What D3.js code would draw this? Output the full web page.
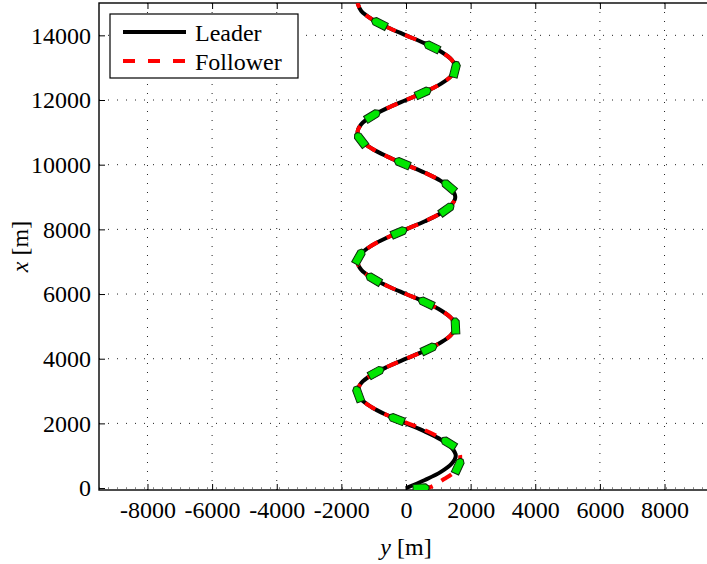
<!DOCTYPE html>
<html>
<head>
<meta charset="utf-8">
<script src="https://cdn.jsdelivr.net/npm/d3@7"></script>
<style>
  body { margin: 0; background: #fff; }
  svg { font-family: "Liberation Serif", serif; }
</style>
</head>
<body>
<div id="chart"></div>
<script>
const w = 707
const h = 564

// leader trajectory, x along track [m] and lateral y [m]
const leaderX = [0, 250, 500, 750, 1000, 1250, 1500, 1750, 2000, 2250, 2500, 2750, 3000, 3250, 3500, 3750,
    4000, 4250, 4500, 4750, 5000, 5250, 5500, 5750, 6000, 6250, 6500, 6750, 7000, 7250, 7500, 7750,
    8000, 8250, 8500, 8750, 9000, 9250, 9500, 9750, 10000, 10250, 10500, 10750, 11000, 11250, 11500, 11750,
    12000, 12250, 12500, 12750, 13000, 13250, 13500, 13750, 14000, 14250, 14500, 14750, 15000]
const leaderY = [0, 585, 1080, 1410, 1540, 1410, 1075, 580, 0, -575, -1060, -1385, -1500, -1385, -1060, -575,
    0, 585, 1075, 1405, 1530, 1405, 1075, 585, 0, -575, -1060, -1385, -1500, -1385, -1060, -575,
    0, 585, 1075, 1405, 1525, 1405, 1075, 585, 0, -575, -1060, -1385, -1500, -1385, -1060, -575,
    0, 585, 1075, 1405, 1530, 1405, 1075, 585, 0, -575, -1060, -1385, -1500]

// follower: own start, then on the leader's track
const followerX = [0, 40, 280, 465, 660, 850, 1020, 1208, 1425, 1640, 1855, 2000].concat(leaderX.slice(9))
const followerY = [465, 774, 1177, 1455, 1610, 1668, 1672, 1579, 1270, 898, 430, 60].concat(leaderY.slice(9))

// follower vehicle snapshots (x position)
const markerX = [0, 680, 1393, 2135, 2908, 3579, 4309, 5011, 5731, 6464, 7154, 7908, 8620,
    9330, 10050, 10770, 11514, 12225, 12946, 13647, 14370]

const xTicks = [-8000, -6000, -4000, -2000, 0, 2000, 4000, 6000, 8000]
const yTicks = [0, 2000, 4000, 6000, 8000, 10000, 12000, 14000]

const pLeft = 99, pRight = 713, pTop = 3, pBottom = 490

const xScale = d3.scaleLinear().domain([-9500, 9500]).range([pLeft, pRight])
const yScale = d3.scaleLinear().domain([-60, 15000]).range([pBottom, pTop])

const svg = d3.select('#chart')
    .append('svg')
    .attr('width', w)
    .attr('height', h)

svg.append('rect')
    .attr('x', pLeft).attr('y', pTop)
    .attr('width', pRight - pLeft).attr('height', pBottom - pTop)
    .attr('fill', '#fff')

svg.append('defs').append('clipPath').attr('id', 'clip')
    .append('rect')
    .attr('x', pLeft).attr('y', pTop)
    .attr('width', pRight - pLeft).attr('height', pBottom - pTop)

// grid
svg.append('g')
    .selectAll('line')
    .data(xTicks)
    .enter()
    .append('line')
    .attr('x1', d => xScale(d)).attr('x2', d => xScale(d))
    .attr('y1', pTop).attr('y2', pBottom)
    .attr('stroke', '#222')
    .attr('stroke-width', 1)
    .attr('stroke-dasharray', '1,8')

svg.append('g')
    .selectAll('line')
    .data(yTicks)
    .enter()
    .append('line')
    .attr('y1', d => yScale(d)).attr('y2', d => yScale(d))
    .attr('x1', pLeft).attr('x2', pRight)
    .attr('stroke', '#222')
    .attr('stroke-width', 1)
    .attr('stroke-dasharray', '1,8')

// axes
const plain = d => String(d)
const xAxis = d3.axisBottom(xScale).tickValues(xTicks).tickFormat(plain).tickSizeInner(-6).tickSizeOuter(0).tickPadding(11)
const yAxis = d3.axisLeft(yScale).tickValues(yTicks).tickFormat(plain).tickSizeInner(-6).tickSizeOuter(0).tickPadding(8)

svg.append('g')
    .attr('transform', 'translate(0,' + pBottom + ')')
    .call(xAxis)
svg.append('g')
    .attr('transform', 'translate(' + pLeft + ',0)')
    .call(yAxis)
svg.append('g')
    .attr('transform', 'translate(0,' + pTop + ')')
    .call(d3.axisTop(xScale).tickValues(xTicks).tickSizeInner(-6).tickSizeOuter(0).tickFormat(''))
svg.append('g')
    .attr('transform', 'translate(' + pRight + ',0)')
    .call(d3.axisRight(yScale).tickValues(yTicks).tickSizeInner(-6).tickSizeOuter(0).tickFormat(''))

svg.selectAll('.domain').remove()
svg.selectAll('.tick line').attr('stroke', '#000').attr('stroke-width', 1)
svg.selectAll('.tick text')
    .attr('font-family', '"Liberation Serif", serif')
    .attr('font-size', 24)
    .attr('fill', '#000')

svg.append('rect')
    .attr('x', pLeft).attr('y', pTop)
    .attr('width', pRight - pLeft).attr('height', pBottom - pTop)
    .attr('fill', 'none')
    .attr('stroke', '#000')
    .attr('stroke-width', 1.4)

// trajectories
const line = d3.line()
    .x(d => xScale(d[1]))
    .y(d => yScale(d[0]))
    .curve(d3.curveCatmullRom)

const leader = leaderX.map((x, i) => [x, leaderY[i]])
const follower = followerX.map((x, i) => [x, followerY[i]])

const plot = svg.append('g').attr('clip-path', 'url(#clip)')

plot.append('path')
    .datum(leader)
    .attr('d', line)
    .attr('fill', 'none')
    .attr('stroke', '#000')
    .attr('stroke-width', 4)

const fPath = plot.append('path')
    .datum(follower)
    .attr('d', line)
    .attr('fill', 'none')
    .attr('stroke', '#ff0000')
    .attr('stroke-width', 4)
    .attr('stroke-dasharray', '12,10')

// vehicles placed on the follower path
const node = fPath.node()
const total = node.getTotalLength()
function lengthAt(py) {
    let lo = 0, hi = total
    for (let k = 0; k < 40; k++) {
        const mid = (lo + hi) / 2
        if (node.getPointAtLength(mid).y > py) lo = mid
        else hi = mid
    }
    return (lo + hi) / 2
}

const vehicles = markerX.map(x => {
    const L = lengthAt(yScale(x))
    const p = node.getPointAtLength(L)
    const a = node.getPointAtLength(Math.max(0, L - 2))
    const b = node.getPointAtLength(Math.min(total, L + 2))
    return { x: p.x, y: p.y, ang: Math.atan2(b.y - a.y, b.x - a.x) * 180 / Math.PI }
})

plot.selectAll('.vehicle')
    .data(vehicles)
    .enter()
    .append('path')
    .attr('class', 'vehicle')
    .attr('d', 'M-8,-4L5,-4L8,-1.5L8,1.5L5,4L-8,4Z')
    .attr('transform', d => 'translate(' + d.x + ',' + d.y + ') rotate(' + d.ang + ')')
    .attr('fill', '#00e600')
    .attr('stroke', '#0b2a0b')
    .attr('stroke-width', 1)

// axis labels
const xl = svg.append('text')
    .attr('transform', 'translate(28,' + ((pTop + pBottom) / 2) + ') rotate(-90)')
    .attr('text-anchor', 'middle')
    .attr('font-size', 24)
xl.append('tspan').attr('font-style', 'italic').text('x')
xl.append('tspan').text(' [m]')

const yl = svg.append('text')
    .attr('x', (pLeft + pRight) / 2)
    .attr('y', 555)
    .attr('text-anchor', 'middle')
    .attr('font-size', 24)
yl.append('tspan').attr('font-style', 'italic').text('y')
yl.append('tspan').text(' [m]')

// legend
const legend = svg.append('g')
legend.append('rect')
    .attr('x', 110).attr('y', 14)
    .attr('width', 188).attr('height', 64)
    .attr('fill', '#fff')
    .attr('stroke', '#000')
    .attr('stroke-width', 1.2)

const items = [
    { name: 'Leader', color: '#000', dash: null },
    { name: 'Follower', color: '#ff0000', dash: '12,13' }
]
legend.selectAll('line')
    .data(items)
    .enter()
    .append('line')
    .attr('x1', 123).attr('x2', 186)
    .attr('y1', (d, i) => 32 + i * 29).attr('y2', (d, i) => 32 + i * 29)
    .attr('stroke', d => d.color)
    .attr('stroke-width', 4)
    .attr('stroke-dasharray', d => d.dash)

legend.selectAll('text')
    .data(items)
    .enter()
    .append('text')
    .attr('x', 195)
    .attr('y', (d, i) => 41 + i * 29)
    .attr('font-size', 24)
    .text(d => d.name)
</script>
</body>
</html>
